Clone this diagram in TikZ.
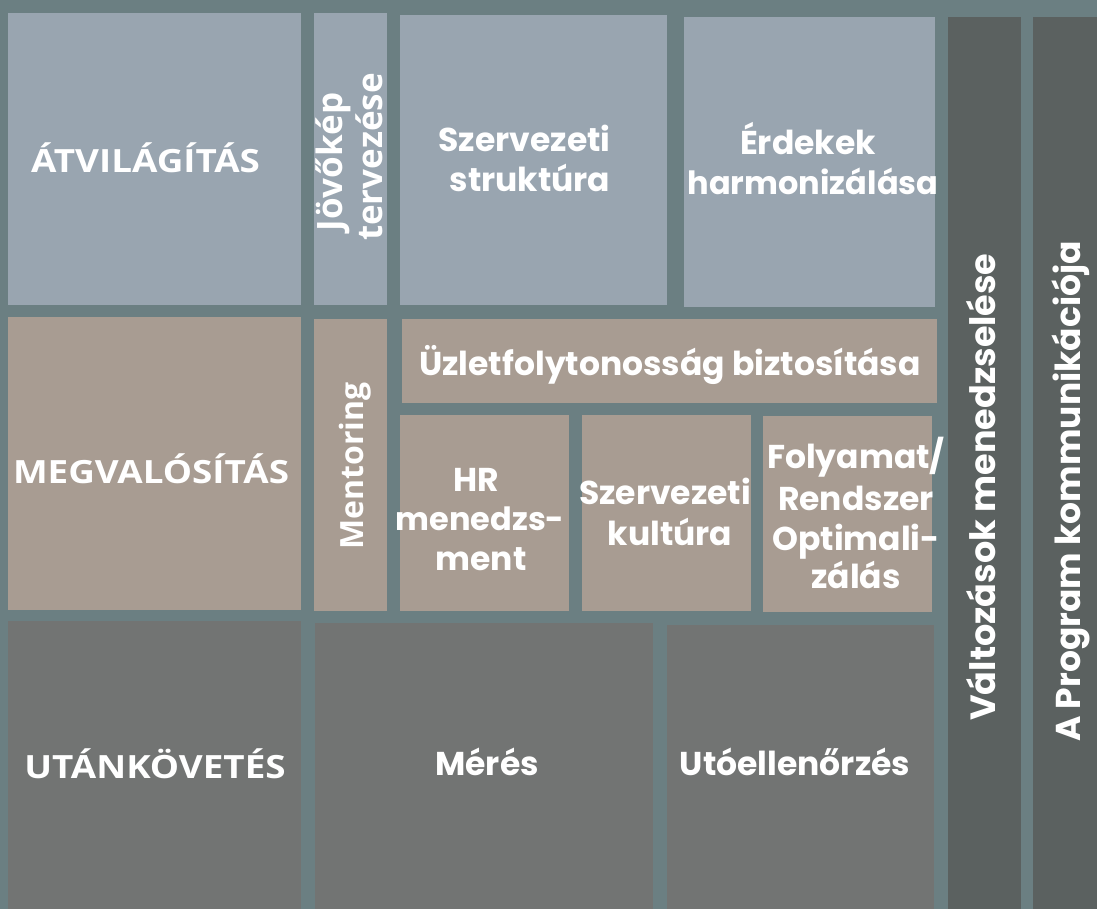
\documentclass[tikz,border=0pt]{standalone}
\usepackage{fontspec}
\setmainfont{Poppins}
\newfontfamily\osans{Open Sans}
\newfontfamily\osanswide{Open Sans}[FakeStretch=1.15]
\definecolor{bgc}{HTML}{6B7F82}
\definecolor{blu}{HTML}{99A5B0}
\definecolor{tau}{HTML}{A89C92}
\definecolor{dgr}{HTML}{727473}
\definecolor{col}{HTML}{5B6160}
\tikzset{
  lbl/.style={text=white, inner sep=0pt, anchor=base, font=\fontsize{33}{40}\selectfont\bfseries},
  caps/.style={text=white, inner sep=0pt, anchor=base, font=\osanswide\fontsize{32}{38}\selectfont\bfseries},
  vcaps/.style={text=white, inner sep=0pt, anchor=base, rotate=90, font=\osans\fontsize{32}{38}\selectfont\bfseries},
  vert/.style={rotate=90}
}
\begin{document}
\begin{tikzpicture}[x=1pt,y=-1pt]
\fill[bgc] (0,0) rectangle (1097,909);
\useasboundingbox (0,0) rectangle (1097,909);
% row 1
\fill[blu] (8,13) rectangle (301,305);
\fill[blu] (314,13) rectangle (387,305);
\fill[blu] (400,15) rectangle (667,305);
\fill[blu] (684,17) rectangle (935,307);
% row 2
\fill[tau] (8,317) rectangle (301,610);
\fill[tau] (314,319) rectangle (387,611);
\fill[tau] (402,319) rectangle (937,403);
\fill[tau] (400,415) rectangle (569,611);
\fill[tau] (582,415) rectangle (751,611);
\fill[tau] (763,416) rectangle (932,612);
% row 3
\fill[dgr] (8,621) rectangle (301,909);
\fill[dgr] (315,623) rectangle (653,909);
\fill[dgr] (667,625) rectangle (934,909);
% right columns
\fill[col] (948,17) rectangle (1021,909);
\fill[col] (1033,17) rectangle (1097,909);
% labels
\node[caps] (atv) at (145.5,173) {ÁTVILÁGÍTÁS};
\node[caps] (meg) at (151,483) {MEGVALÓSÍTÁS};
\node[caps] (utan) at (155,778) {UTÁNKÖVETÉS};
\node[vcaps, font=\osans\fontsize{35}{38}\selectfont\bfseries] (jov1) at (342,162) {Jövőkép};
\node[vcaps, font=\osans\fontsize{35}{38}\selectfont\bfseries] (jov2) at (382,157) {tervezése};
\node[vcaps] (ment) at (363,466) {Mentoring};
\node[lbl] (szs1) at (524.5,152) {Szervezeti};
\node[lbl] (szs2) at (530,192) {struktúra};
\node[lbl] (erd1) at (808,155) {Érdekek};
\node[lbl, font=\fontsize{32}{40}\selectfont\bfseries] (erd2) at (813,195) {harmonizálása};
\node[lbl] (uzl) at (670,375) {Üzletfolytonosság biztosítása};
\node[lbl] (hr1) at (476,491) {HR};
\node[lbl, font=\fontsize{32}{40}\selectfont\bfseries] (hr2) at (480,530) {menedzs-};
\node[lbl] (hr3) at (481,570) {ment};
\node[lbl] (szk1) at (665,504) {Szervezeti};
\node[lbl] (szk2) at (670,545) {kultúra};
\node[lbl] (fol1) at (856,468) {Folyamat/};
\node[lbl] (fol2) at (856,510) {Rendszer};
\node[lbl] (fol3) at (856,550) {Optimali-};
\node[lbl] (fol4) at (856,588) {zálás};
\node[lbl] (mer) at (487,775) {Mérés};
\node[lbl] (uto) at (795,775) {Utóellenőrzés};
\node[lbl,vert, font=\fontsize{35}{40}\selectfont\bfseries] (valt) at (995,487) {Változások menedzselése};
\node[lbl,vert, font=\fontsize{34.5}{40}\selectfont\bfseries] (prog) at (1080,491.5) {A Program kommunikációja};
\end{tikzpicture}
\end{document}
